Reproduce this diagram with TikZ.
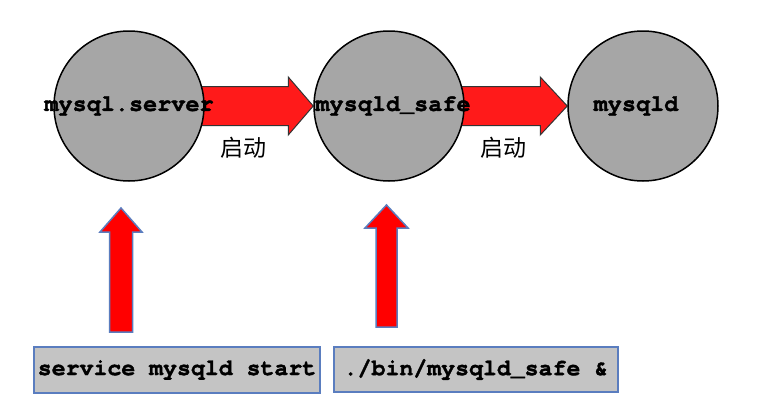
\documentclass[tikz,border=0pt]{standalone}
\usepackage{fontspec}
\newfontfamily\cour[BoldFeatures={FakeBold=1.5}]{TeX Gyre Cursor}
\newfontfamily\cjk{Noto Sans CJK SC}
\usetikzlibrary{calc,backgrounds}
\definecolor{circgray}{HTML}{A6A6A6}
\definecolor{arrred}{HTML}{FF1A1A}
\definecolor{upred}{HTML}{FF0000}
\definecolor{boxgray}{HTML}{C4C4C4}
\definecolor{boxblue}{HTML}{5A7DBF}
\tikzset{
  circ/.style={circle, draw=black, line width=1.5pt, fill=circgray, minimum size=150pt, inner sep=0pt},
  ctext/.style={font=\cour\bfseries\fontsize{23.5}{28}\selectfont, inner sep=0pt},
  cmdbox/.style={draw=boxblue, line width=1.5pt, fill=boxgray, inner sep=0pt, font=\cour\bfseries\fontsize{23.2}{28}\selectfont},
  startlabel/.style={font=\cjk\fontsize{23}{26}\selectfont, inner sep=0pt},
  rarrow/.style={fill=arrred, draw=black!80, line width=1pt, line join=miter},
  uarrow/.style={fill=upred, draw=boxblue, line width=1.5pt, line join=miter}
}
\begin{document}
\begin{tikzpicture}[x=1pt,y=-1pt]
\useasboundingbox (0,0) rectangle (772,407);
\begin{scope}[on background layer]
  \fill[white] (0,0) rectangle (772,407);
\end{scope}

% circles
\node[circ, label={[ctext]center:mysql.server}] (c1) at (129,106) {};
\node[circ, label={[ctext, xshift=4pt]center:mysqld\_safe}] (c2) at (389,106) {};
\node[circ, label={[ctext, xshift=-7pt]center:mysqld}] (c3) at (643,106) {};

% labels
\node[startlabel] (l1) at (243,148) {启动};
\node[startlabel] (l2) at (503,148) {启动};

% boxes
\node[cmdbox, minimum width=286pt, minimum height=46pt] (b1) at (177,370) {service mysqld start};
\node[cmdbox, minimum width=284pt, minimum height=45pt] (b2) at (476,369.5) {./bin/mysqld\_safe \&};

% right arrows (behind circles)
\begin{scope}[on background layer]
  \draw[rarrow] ($(c1.center)+(0,-19.5)$) -- ($(c2.west)+(-25,-19.5)$) -- ($(c2.west)+(-25,-29)$)
     -- (c2.west) -- ($(c2.west)+(-25,29)$) -- ($(c2.west)+(-25,19.5)$) -- ($(c1.center)+(0,19.5)$) -- cycle;
  \draw[rarrow] ($(c2.center)+(0,-19.5)$) -- ($(c3.west)+(-27,-19.5)$) -- ($(c3.west)+(-27,-29)$)
     -- (c3.west) -- ($(c3.west)+(-27,29)$) -- ($(c3.west)+(-27,19.5)$) -- ($(c2.center)+(0,19.5)$) -- cycle;
\end{scope}

% up arrows
\coordinate (u1b) at (121,332);
\coordinate (u1t) at (121,208);
\coordinate (u2b) at (386.5,327);
\coordinate (u2t) at (386.5,205);
\draw[uarrow] ($(u1b)+(-11.5,0)$) -- ($(u1t)+(-11.5,24)$) -- ($(u1t)+(-21,24)$) -- (u1t)
   -- ($(u1t)+(21,24)$) -- ($(u1t)+(11.5,24)$) -- ($(u1b)+(11.5,0)$) -- cycle;
\draw[uarrow] ($(u2b)+(-10.5,0)$) -- ($(u2t)+(-10.5,23)$) -- ($(u2t)+(-21.5,23)$) -- (u2t)
   -- ($(u2t)+(21.5,23)$) -- ($(u2t)+(10.5,23)$) -- ($(u2b)+(10.5,0)$) -- cycle;
\end{tikzpicture}
\end{document}
